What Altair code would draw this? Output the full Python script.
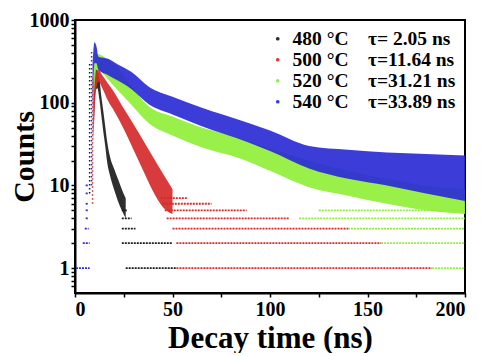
import altair as alt
import pandas as pd

SERIES = ["480 °C", "500 °C", "520 °C", "540 °C"]
TAUS = [" 2.05", "11.64", "31.21", "33.89"]
COLORS = ["#1c1c1c", "#d42a2a", "#8fef3a", "#2b2bd6"]
LABELS = [f"{s}\u2002\u2002τ={t} ns" for s, t in zip(SERIES, TAUS)]

# dense part of each decay cloud: time (ns), lower and upper counts
BLACK_T = [9.5, 10.5, 11.5, 12.5, 13.5, 14.5, 15.5, 16.5, 18, 20, 22, 24, 26]
BLACK_LO = [30, 140, 150, 110, 70, 45, 30, 19, 13, 9, 6.5, 5, 4]
BLACK_HI = [180, 260, 240, 200, 120, 80, 52, 34, 22, 16, 12, 9, 7]

RED_T = [9.5, 10.5, 12, 14, 17, 20, 25, 30, 35, 40, 45, 50]
RED_LO = [40, 120, 180, 150, 105, 80, 48, 27, 15, 8.5, 5.5, 4.5]
RED_HI = [150, 240, 250, 215, 170, 135, 85, 55, 35, 22, 14, 9]

GREEN_T = [9.5, 11, 13, 17, 21, 28, 38, 50, 63, 85, 100, 120, 140, 160, 180, 200]
GREEN_LO = [100, 250, 240, 190, 150, 100, 56, 40, 30, 21, 15, 9.5, 7.5, 6, 5, 4.5]
GREEN_HI = [250, 390, 380, 330, 280, 170, 90, 68, 52, 37, 28, 20, 15, 12, 10, 9]

BLUE_T = [9, 10, 11, 12, 17, 22, 29, 38, 50, 64, 89, 100, 120, 140, 160, 180, 200]
BLUE_LO = [80, 300, 300, 250, 215, 185, 145, 95, 72, 53, 33, 26, 16, 12, 10, 8, 6.5]
BLUE_HI = [300, 540, 480, 360, 340, 290, 235, 155, 118, 89, 57, 46, 30, 27, 25, 24, 23]

# quantised low-count rows: series index, count level, first and last time (ns)
LEVEL_SERIES = [0, 0, 0, 0, 0, 1, 1, 1, 1, 1, 1, 1, 2, 2, 2, 2, 2, 3, 3, 3, 3, 3, 3, 3, 3]
LEVEL_COUNT = [1, 2, 3, 4, 5, 1, 2, 3, 4, 5, 6, 7, 1, 2, 3, 4, 5, 1, 2, 3, 4, 5, 6, 8, 10]
LEVEL_T0 = [26, 24, 24, 24, 24, 52, 52, 50, 47, 46, 45, 44, 183, 157, 140, 115, 125, 0.5, 4, 5, 5.5, 5.5, 5.5, 5.5, 5.5]
LEVEL_T1 = [52, 50, 31, 29, 27, 183, 157, 140, 110, 88, 70, 58, 200, 200, 200, 200, 200, 7.5, 7.5, 7, 7, 7, 7, 7, 7]

# rising edges seen as dotted vertical columns: series index, time, low and high counts
EDGE_SERIES = [0, 3, 1]
EDGE_T = [7.5, 8.5, 9.0]
EDGE_LO = [8, 10, 6]
EDGE_HI = [300, 420, 200]

bands = []
for i, (ts, lo, hi) in enumerate([(BLACK_T, BLACK_LO, BLACK_HI), (RED_T, RED_LO, RED_HI),
                                  (GREEN_T, GREEN_LO, GREEN_HI), (BLUE_T, BLUE_LO, BLUE_HI)]):
    for t, a, b in zip(ts, lo, hi):
        bands.append({"series": LABELS[i], "t": t, "lo": a, "hi": b})
bands_df = pd.DataFrame(bands)

levels_df = pd.DataFrame({
    "series": [LABELS[i] for i in LEVEL_SERIES],
    "c": LEVEL_COUNT, "t0": LEVEL_T0, "t1": LEVEL_T1,
})
edges_df = pd.DataFrame({
    "series": [LABELS[i] for i in EDGE_SERIES],
    "t": EDGE_T, "lo": EDGE_LO, "hi": EDGE_HI,
})

FONT = "Liberation Serif"
color_scale = alt.Scale(domain=LABELS, range=COLORS)
legend = alt.Legend(title=None, orient="top-right", offset=9,
                    symbolType="circle", symbolSize=5,
                    labelFont=FONT, labelFontSize=19.5, labelFontWeight="bold",
                    labelColor="black", labelLimit=400,
                    rowPadding=0, padding=0, labelOffset=5)
color_enc = alt.Color("series:N", scale=color_scale, legend=legend)

minor_x = [0, 25, 50, 75, 100, 125, 150, 175, 200]
minor_y = [0.6, 0.7, 0.8, 0.9] + [m * 10 ** k for k in range(0, 3) for m in range(1, 10)] + [1000]

x_enc = alt.X("t:Q", scale=alt.Scale(domain=[0, 200], nice=False),
              axis=alt.Axis(values=minor_x, title="Decay time (ns)", titleFontSize=31,
                            labelExpr="datum.value % 50 == 0 ? format(datum.value, 'd') : ''",
                            labelOverlap=False, titlePadding=4))
y_scale = alt.Scale(type="log", domain=[0.5, 1000], nice=False)
y_axis = alt.Axis(values=minor_y, title="Counts",
                  labelExpr="indexof([1, 10, 100, 1000], datum.value) >= 0 ? format(datum.value, 'd') : ''",
                  labelOverlap=False, titlePadding=-10)

band_layer = alt.Chart(bands_df).mark_area(opacity=0.92, interpolate="monotone").encode(
    x=x_enc,
    y=alt.Y("lo:Q", scale=y_scale, axis=y_axis),
    y2="hi:Q",
    color=color_enc,
    detail="series:N",
)

level_layer = alt.Chart(levels_df).mark_rule(strokeWidth=1.8, strokeDash=[2, 1]).encode(
    x="t0:Q", x2="t1:Q",
    y=alt.Y("c:Q", scale=y_scale),
    color=color_enc,
)

edge_layer = alt.Chart(edges_df).mark_rule(strokeWidth=1.5, strokeDash=[1.5, 2.5]).encode(
    x="t:Q",
    y=alt.Y("lo:Q", scale=y_scale), y2="hi:Q",
    color=color_enc,
)

chart = alt.layer(band_layer, level_layer, edge_layer).properties(
    width=390, height=273,
    padding={"left": 1, "top": 2, "right": 2, "bottom": 0},
).configure_view(
    stroke="black", strokeWidth=2
).configure_axis(
    labelFont=FONT, labelFontSize=20, labelFontWeight="bold", labelColor="black",
    titleFont=FONT, titleFontSize=30, titleFontWeight="bold", titleColor="black",
    domainColor="black", domainWidth=2, tickColor="black", tickWidth=1.5, tickSize=4,
    labelPadding=2, grid=False,
)

chart.save("out.html", embed_options={"renderer": "svg", "actions": False})
